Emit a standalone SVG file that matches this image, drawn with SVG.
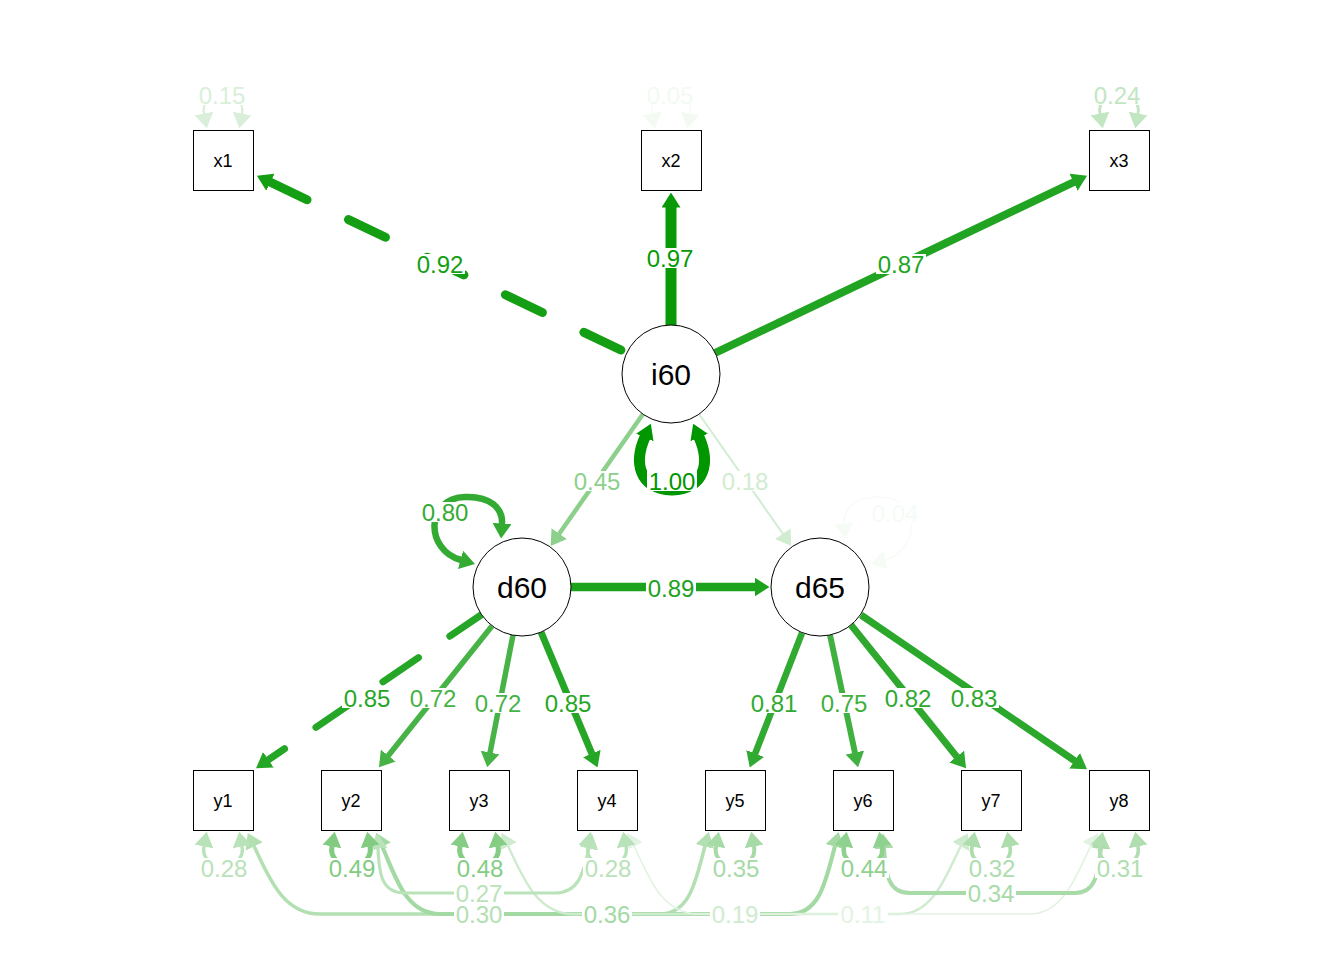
<svg xmlns="http://www.w3.org/2000/svg" width="1344" height="960" viewBox="0 0 1344 960">
<style>
.box{fill:#fff;stroke:#000;stroke-width:1}
.lat{fill:#fff;stroke:#000;stroke-width:1}
.nt{font-family:"Liberation Sans",Arial,sans-serif;font-size:18px;text-anchor:middle;fill:#000}
.lt{font-family:"Liberation Sans",Arial,sans-serif;font-size:30px;text-anchor:middle;fill:#000}
.el{font-family:"Liberation Sans",Arial,sans-serif;font-size:24px;text-anchor:middle}
.bg{fill:#fff}
#edges path{fill:none}
.dash{stroke-linecap:round}
</style>
<defs>
<marker id="m100" viewBox="0 0 15 19" refX="0.5" refY="9.5" markerWidth="15" markerHeight="19" markerUnits="userSpaceOnUse" orient="auto-start-reverse"><path d="M0,0 L15,9.5 L0,19 z" fill="#009600"/></marker>
<marker id="m97" viewBox="0 0 15 19" refX="0.5" refY="9.5" markerWidth="15" markerHeight="19" markerUnits="userSpaceOnUse" orient="auto-start-reverse"><path d="M0,0 L15,9.5 L0,19 z" fill="#089908"/></marker>
<marker id="m92" viewBox="0 0 15 19" refX="0.5" refY="9.5" markerWidth="15" markerHeight="19" markerUnits="userSpaceOnUse" orient="auto-start-reverse"><path d="M0,0 L15,9.5 L0,19 z" fill="#149e14"/></marker>
<marker id="m89" viewBox="0 0 15 19" refX="0.5" refY="9.5" markerWidth="15" markerHeight="19" markerUnits="userSpaceOnUse" orient="auto-start-reverse"><path d="M0,0 L15,9.5 L0,19 z" fill="#1ca21c"/></marker>
<marker id="m87" viewBox="0 0 15 19" refX="0.5" refY="9.5" markerWidth="15" markerHeight="19" markerUnits="userSpaceOnUse" orient="auto-start-reverse"><path d="M0,0 L15,9.5 L0,19 z" fill="#21a421"/></marker>
<marker id="m85" viewBox="0 0 15 19" refX="0.5" refY="9.5" markerWidth="15" markerHeight="19" markerUnits="userSpaceOnUse" orient="auto-start-reverse"><path d="M0,0 L15,9.5 L0,19 z" fill="#26a626"/></marker>
<marker id="m83" viewBox="0 0 15 19" refX="0.5" refY="9.5" markerWidth="15" markerHeight="19" markerUnits="userSpaceOnUse" orient="auto-start-reverse"><path d="M0,0 L15,9.5 L0,19 z" fill="#2ba82b"/></marker>
<marker id="m82" viewBox="0 0 15 19" refX="0.5" refY="9.5" markerWidth="15" markerHeight="19" markerUnits="userSpaceOnUse" orient="auto-start-reverse"><path d="M0,0 L15,9.5 L0,19 z" fill="#2ea92e"/></marker>
<marker id="m81" viewBox="0 0 15 19" refX="0.5" refY="9.5" markerWidth="15" markerHeight="19" markerUnits="userSpaceOnUse" orient="auto-start-reverse"><path d="M0,0 L15,9.5 L0,19 z" fill="#30aa30"/></marker>
<marker id="m80" viewBox="0 0 15 19" refX="0.5" refY="9.5" markerWidth="15" markerHeight="19" markerUnits="userSpaceOnUse" orient="auto-start-reverse"><path d="M0,0 L15,9.5 L0,19 z" fill="#33ab33"/></marker>
<marker id="m75" viewBox="0 0 15 19" refX="0.5" refY="9.5" markerWidth="15" markerHeight="19" markerUnits="userSpaceOnUse" orient="auto-start-reverse"><path d="M0,0 L15,9.5 L0,19 z" fill="#40b040"/></marker>
<marker id="m72" viewBox="0 0 15 19" refX="0.5" refY="9.5" markerWidth="15" markerHeight="19" markerUnits="userSpaceOnUse" orient="auto-start-reverse"><path d="M0,0 L15,9.5 L0,19 z" fill="#47b347"/></marker>
<marker id="m49" viewBox="0 0 15 19" refX="0.5" refY="9.5" markerWidth="15" markerHeight="19" markerUnits="userSpaceOnUse" orient="auto-start-reverse"><path d="M0,0 L15,9.5 L0,19 z" fill="#82cc82"/></marker>
<marker id="m48" viewBox="0 0 15 19" refX="0.5" refY="9.5" markerWidth="15" markerHeight="19" markerUnits="userSpaceOnUse" orient="auto-start-reverse"><path d="M0,0 L15,9.5 L0,19 z" fill="#85cd85"/></marker>
<marker id="m45" viewBox="0 0 15 19" refX="0.5" refY="9.5" markerWidth="15" markerHeight="19" markerUnits="userSpaceOnUse" orient="auto-start-reverse"><path d="M0,0 L15,9.5 L0,19 z" fill="#8cd08c"/></marker>
<marker id="m44" viewBox="0 0 15 19" refX="0.5" refY="9.5" markerWidth="15" markerHeight="19" markerUnits="userSpaceOnUse" orient="auto-start-reverse"><path d="M0,0 L15,9.5 L0,19 z" fill="#8fd18f"/></marker>
<marker id="m36" viewBox="0 0 15 19" refX="0.5" refY="9.5" markerWidth="15" markerHeight="19" markerUnits="userSpaceOnUse" orient="auto-start-reverse"><path d="M0,0 L15,9.5 L0,19 z" fill="#a3d9a3"/></marker>
<marker id="m35" viewBox="0 0 15 19" refX="0.5" refY="9.5" markerWidth="15" markerHeight="19" markerUnits="userSpaceOnUse" orient="auto-start-reverse"><path d="M0,0 L15,9.5 L0,19 z" fill="#a6daa6"/></marker>
<marker id="m34" viewBox="0 0 15 19" refX="0.5" refY="9.5" markerWidth="15" markerHeight="19" markerUnits="userSpaceOnUse" orient="auto-start-reverse"><path d="M0,0 L15,9.5 L0,19 z" fill="#a8dba8"/></marker>
<marker id="m32" viewBox="0 0 15 19" refX="0.5" refY="9.5" markerWidth="15" markerHeight="19" markerUnits="userSpaceOnUse" orient="auto-start-reverse"><path d="M0,0 L15,9.5 L0,19 z" fill="#adddad"/></marker>
<marker id="m31" viewBox="0 0 15 19" refX="0.5" refY="9.5" markerWidth="15" markerHeight="19" markerUnits="userSpaceOnUse" orient="auto-start-reverse"><path d="M0,0 L15,9.5 L0,19 z" fill="#b0deb0"/></marker>
<marker id="m30" viewBox="0 0 15 19" refX="0.5" refY="9.5" markerWidth="15" markerHeight="19" markerUnits="userSpaceOnUse" orient="auto-start-reverse"><path d="M0,0 L15,9.5 L0,19 z" fill="#b3e0b3"/></marker>
<marker id="m28" viewBox="0 0 15 19" refX="0.5" refY="9.5" markerWidth="15" markerHeight="19" markerUnits="userSpaceOnUse" orient="auto-start-reverse"><path d="M0,0 L15,9.5 L0,19 z" fill="#b8e2b8"/></marker>
<marker id="m27" viewBox="0 0 15 19" refX="0.5" refY="9.5" markerWidth="15" markerHeight="19" markerUnits="userSpaceOnUse" orient="auto-start-reverse"><path d="M0,0 L15,9.5 L0,19 z" fill="#bae3ba"/></marker>
<marker id="m24" viewBox="0 0 15 19" refX="0.5" refY="9.5" markerWidth="15" markerHeight="19" markerUnits="userSpaceOnUse" orient="auto-start-reverse"><path d="M0,0 L15,9.5 L0,19 z" fill="#c2e6c2"/></marker>
<marker id="m19" viewBox="0 0 15 19" refX="0.5" refY="9.5" markerWidth="15" markerHeight="19" markerUnits="userSpaceOnUse" orient="auto-start-reverse"><path d="M0,0 L15,9.5 L0,19 z" fill="#cfebcf"/></marker>
<marker id="m18" viewBox="0 0 15 19" refX="0.5" refY="9.5" markerWidth="15" markerHeight="19" markerUnits="userSpaceOnUse" orient="auto-start-reverse"><path d="M0,0 L15,9.5 L0,19 z" fill="#d1ecd1"/></marker>
<marker id="m15" viewBox="0 0 15 19" refX="0.5" refY="9.5" markerWidth="15" markerHeight="19" markerUnits="userSpaceOnUse" orient="auto-start-reverse"><path d="M0,0 L15,9.5 L0,19 z" fill="#d9efd9"/></marker>
<marker id="m11" viewBox="0 0 15 19" refX="0.5" refY="9.5" markerWidth="15" markerHeight="19" markerUnits="userSpaceOnUse" orient="auto-start-reverse"><path d="M0,0 L15,9.5 L0,19 z" fill="#e3f3e3"/></marker>
<marker id="m05" viewBox="0 0 15 19" refX="0.5" refY="9.5" markerWidth="15" markerHeight="19" markerUnits="userSpaceOnUse" orient="auto-start-reverse"><path d="M0,0 L15,9.5 L0,19 z" fill="#f2faf2"/></marker>
<marker id="m04" viewBox="0 0 15 19" refX="0.5" refY="9.5" markerWidth="15" markerHeight="19" markerUnits="userSpaceOnUse" orient="auto-start-reverse"><path d="M0,0 L15,9.5 L0,19 z" fill="#f5fbf5"/></marker>
</defs>
<rect width="1344" height="960" fill="#fff"/>
<g id="edges">
<!-- covariances bottom -->
<path d="M254,846 C268,875 282,914 320,914 L660,914 C690,914 696,880 705,846" stroke="#b3e0b3" stroke-width="3.5" marker-start="url(#m30)" marker-end="url(#m30)"/>
<path d="M382,846 C395,875 405,914 440,914 L790,914 C820,914 826,880 835,846" stroke="#a3d9a3" stroke-width="4.1" marker-start="url(#m36)" marker-end="url(#m36)"/>
<path d="M508,846 C522,875 535,911 570,914 L900,914 C935,914 948,870 961,846" stroke="#cfebcf" stroke-width="2.4" marker-start="url(#m19)" marker-end="url(#m19)"/>
<path d="M634,846 C648,875 660,911 695,914 L1030,914 C1065,914 1078,870 1091,846" stroke="#e3f3e3" stroke-width="1.6" marker-start="url(#m11)" marker-end="url(#m11)"/>
<path d="M378,848 C379,875 382,893 405,893 L555,893 C578,893 583,875 589,848" stroke="#bae3ba" stroke-width="3.2" marker-start="url(#m27)" marker-end="url(#m27)"/>
<path d="M884,848 C886,875 888,893 910,893 L1075,893 C1095,893 1098,875 1101,848" stroke="#a8dba8" stroke-width="3.9" marker-start="url(#m34)" marker-end="url(#m34)"/>
<!-- residuals bottom -->
<path d="M204,846 C199,872 247,872 242,846" stroke="#b8e2b8" stroke-width="3.3" marker-start="url(#m28)" marker-end="url(#m28)"/>
<path d="M332,846 C327,872 375,872 370,846" stroke="#82cc82" stroke-width="5" marker-start="url(#m49)" marker-end="url(#m49)"/>
<path d="M460,846 C455,872 503,872 498,846" stroke="#85cd85" stroke-width="5" marker-start="url(#m48)" marker-end="url(#m48)"/>
<path d="M588,846 C583,872 631,872 626,846" stroke="#b8e2b8" stroke-width="3.3" marker-start="url(#m28)" marker-end="url(#m28)"/>
<path d="M716,846 C711,872 759,872 754,846" stroke="#a6daa6" stroke-width="4" marker-start="url(#m35)" marker-end="url(#m35)"/>
<path d="M844,846 C839,872 887,872 882,846" stroke="#8fd18f" stroke-width="4.6" marker-start="url(#m44)" marker-end="url(#m44)"/>
<path d="M972,846 C967,872 1015,872 1010,846" stroke="#adddad" stroke-width="3.7" marker-start="url(#m32)" marker-end="url(#m32)"/>
<path d="M1100,846 C1095,872 1143,872 1138,846" stroke="#b0deb0" stroke-width="3.6" marker-start="url(#m31)" marker-end="url(#m31)"/>
<!-- residuals top -->
<path d="M204,114 C199,88 247,88 242,114" stroke="#d9efd9" stroke-width="2.2" marker-start="url(#m15)" marker-end="url(#m15)"/>
<path d="M652,114 C647,88 695,88 690,114" stroke="#f2faf2" stroke-width="1.2" marker-start="url(#m05)" marker-end="url(#m05)"/>
<path d="M1100,114 C1095,88 1143,88 1138,114" stroke="#c2e6c2" stroke-width="2.9" marker-start="url(#m24)" marker-end="url(#m24)"/>
<!-- latent variances -->
<path d="M645,437 C634,462 638,488 672,490 C706,488 710,462 699,437" stroke="#009600" stroke-width="11" marker-start="url(#m100)" marker-end="url(#m100)"/>
<path d="M461,560 C425,550 425,498 465,497 C490,496 503,508 502,524" stroke="#33ab33" stroke-width="6.5" marker-start="url(#m80)" marker-end="url(#m80)"/>
<path d="M885,560 C921,550 921,498 881,497 C856,496 843,508 844,524" stroke="#f5fbf5" stroke-width="1.2" marker-start="url(#m04)" marker-end="url(#m04)"/>
<!-- loadings -->
<path class="dash" d="M270,182 L627,353" stroke="#149e14" stroke-width="9" stroke-dasharray="41 46" marker-start="url(#m92)"/>
<path d="M671,325 L671,207" stroke="#089908" stroke-width="11" marker-end="url(#m97)"/>
<path d="M715,353 L1074,182" stroke="#21a421" stroke-width="8" marker-end="url(#m87)"/>
<path d="M643,414 L559,534" stroke="#8cd08c" stroke-width="4.5" marker-end="url(#m45)"/>
<path d="M699,414 L783,534" stroke="#d1ecd1" stroke-width="2" marker-end="url(#m18)"/>
<path d="M571,587 L755,587" stroke="#1ca21c" stroke-width="8.5" marker-end="url(#m89)"/>
<path class="dash" d="M268,760 L481,615" stroke="#26a626" stroke-width="7" stroke-dasharray="43 38" stroke-dashoffset="23" marker-start="url(#m85)"/>
<path d="M492,626 L388,756" stroke="#47b347" stroke-width="5.5" marker-end="url(#m72)"/>
<path d="M513,635 L490,753" stroke="#47b347" stroke-width="5.5" marker-end="url(#m72)"/>
<path d="M541,632 L592,754" stroke="#26a626" stroke-width="7" marker-end="url(#m85)"/>
<path d="M802,633 L755,754" stroke="#30aa30" stroke-width="6.5" marker-end="url(#m81)"/>
<path d="M830,635 L855,753" stroke="#40b040" stroke-width="6" marker-end="url(#m75)"/>
<path d="M851,625 L957,757" stroke="#2ea92e" stroke-width="6.8" marker-end="url(#m82)"/>
<path d="M861,615 L1075,761" stroke="#2ba82b" stroke-width="7" marker-end="url(#m83)"/>
</g>
<g id="x1"><rect class="box" x="193.5" y="130.5" width="60" height="60"/><text class="nt" x="223" y="167">x1</text></g>
<g id="x2"><rect class="box" x="641.5" y="130.5" width="60" height="60"/><text class="nt" x="671" y="167">x2</text></g>
<g id="x3"><rect class="box" x="1089.5" y="130.5" width="60" height="60"/><text class="nt" x="1119" y="167">x3</text></g>
<g id="y1"><rect class="box" x="193.5" y="770.5" width="60" height="60"/><text class="nt" x="223" y="807">y1</text></g>
<g id="y2"><rect class="box" x="321.5" y="770.5" width="60" height="60"/><text class="nt" x="351" y="807">y2</text></g>
<g id="y3"><rect class="box" x="449.5" y="770.5" width="60" height="60"/><text class="nt" x="479" y="807">y3</text></g>
<g id="y4"><rect class="box" x="577.5" y="770.5" width="60" height="60"/><text class="nt" x="607" y="807">y4</text></g>
<g id="y5"><rect class="box" x="705.5" y="770.5" width="60" height="60"/><text class="nt" x="735" y="807">y5</text></g>
<g id="y6"><rect class="box" x="833.5" y="770.5" width="60" height="60"/><text class="nt" x="863" y="807">y6</text></g>
<g id="y7"><rect class="box" x="961.5" y="770.5" width="60" height="60"/><text class="nt" x="991" y="807">y7</text></g>
<g id="y8"><rect class="box" x="1089.5" y="770.5" width="60" height="60"/><text class="nt" x="1119" y="807">y8</text></g>
<g id="i60"><circle class="lat" cx="671" cy="374" r="49"/><text class="lt" x="671" y="385">i60</text></g>
<g id="d60"><circle class="lat" cx="522" cy="587" r="49"/><text class="lt" x="522" y="598">d60</text></g>
<g id="d65"><circle class="lat" cx="820" cy="587" r="49"/><text class="lt" x="820" y="598">d65</text></g>
<g id="labels">
<rect class="bg" x="415" y="254" width="50" height="20"/><text class="el" x="440" y="272.5" fill="#149e14">0.92</text>
<rect class="bg" x="645" y="248" width="50" height="20"/><text class="el" x="670" y="266.5" fill="#089908">0.97</text>
<rect class="bg" x="876" y="254" width="50" height="20"/><text class="el" x="901" y="272.5" fill="#21a421">0.87</text>
<rect class="bg" x="572" y="471" width="50" height="20"/><text class="el" x="597" y="489.5" fill="#8cd08c">0.45</text>
<rect class="bg" x="647" y="471" width="50" height="20"/><text class="el" x="672" y="489.5" fill="#009600">1.00</text>
<rect class="bg" x="720" y="471" width="50" height="20"/><text class="el" x="745" y="489.5" fill="#d1ecd1">0.18</text>
<rect class="bg" x="420" y="502" width="50" height="20"/><text class="el" x="445" y="520.5" fill="#33ab33">0.80</text>
<rect class="bg" x="870" y="503" width="50" height="20"/><text class="el" x="895" y="521.5" fill="#f5fbf5">0.04</text>
<rect class="bg" x="646" y="578" width="50" height="20"/><text class="el" x="671" y="596.5" fill="#1ca21c">0.89</text>
<rect class="bg" x="342" y="688" width="50" height="20"/><text class="el" x="367" y="706.5" fill="#26a626">0.85</text>
<rect class="bg" x="408" y="688" width="50" height="20"/><text class="el" x="433" y="706.5" fill="#47b347">0.72</text>
<rect class="bg" x="473" y="693" width="50" height="20"/><text class="el" x="498" y="711.5" fill="#47b347">0.72</text>
<rect class="bg" x="543" y="693" width="50" height="20"/><text class="el" x="568" y="711.5" fill="#26a626">0.85</text>
<rect class="bg" x="749" y="693" width="50" height="20"/><text class="el" x="774" y="711.5" fill="#30aa30">0.81</text>
<rect class="bg" x="819" y="693" width="50" height="20"/><text class="el" x="844" y="711.5" fill="#40b040">0.75</text>
<rect class="bg" x="883" y="688" width="50" height="20"/><text class="el" x="908" y="706.5" fill="#2ea92e">0.82</text>
<rect class="bg" x="949" y="688" width="50" height="20"/><text class="el" x="974" y="706.5" fill="#2ba82b">0.83</text>
<rect class="bg" x="197" y="85" width="50" height="20"/><text class="el" x="222" y="103.5" fill="#d9efd9">0.15</text>
<rect class="bg" x="645" y="85" width="50" height="20"/><text class="el" x="670" y="103.5" fill="#f2faf2">0.05</text>
<rect class="bg" x="1092" y="85" width="50" height="20"/><text class="el" x="1117" y="103.5" fill="#c2e6c2">0.24</text>
<rect class="bg" x="199" y="858" width="50" height="20"/><text class="el" x="224" y="876.5" fill="#b8e2b8">0.28</text>
<rect class="bg" x="327" y="858" width="50" height="20"/><text class="el" x="352" y="876.5" fill="#82cc82">0.49</text>
<rect class="bg" x="455" y="858" width="50" height="20"/><text class="el" x="480" y="876.5" fill="#85cd85">0.48</text>
<rect class="bg" x="583" y="858" width="50" height="20"/><text class="el" x="608" y="876.5" fill="#b8e2b8">0.28</text>
<rect class="bg" x="711" y="858" width="50" height="20"/><text class="el" x="736" y="876.5" fill="#a6daa6">0.35</text>
<rect class="bg" x="839" y="858" width="50" height="20"/><text class="el" x="864" y="876.5" fill="#8fd18f">0.44</text>
<rect class="bg" x="967" y="858" width="50" height="20"/><text class="el" x="992" y="876.5" fill="#adddad">0.32</text>
<rect class="bg" x="1095" y="858" width="50" height="20"/><text class="el" x="1120" y="876.5" fill="#b0deb0">0.31</text>
<rect class="bg" x="454" y="884" width="50" height="19"/><text class="el" x="479" y="901.5" fill="#bae3ba">0.27</text>
<rect class="bg" x="966" y="884" width="50" height="19"/><text class="el" x="991" y="901.5" fill="#a8dba8">0.34</text>
<rect class="bg" x="454" y="905" width="50" height="19"/><text class="el" x="479" y="922.5" fill="#b3e0b3">0.30</text>
<rect class="bg" x="582" y="905" width="50" height="19"/><text class="el" x="607" y="922.5" fill="#a3d9a3">0.36</text>
<rect class="bg" x="710" y="905" width="50" height="19"/><text class="el" x="735" y="922.5" fill="#cfebcf">0.19</text>
<rect class="bg" x="838" y="905" width="50" height="19"/><text class="el" x="863" y="922.5" fill="#e3f3e3">0.11</text>
</g>
</svg>
